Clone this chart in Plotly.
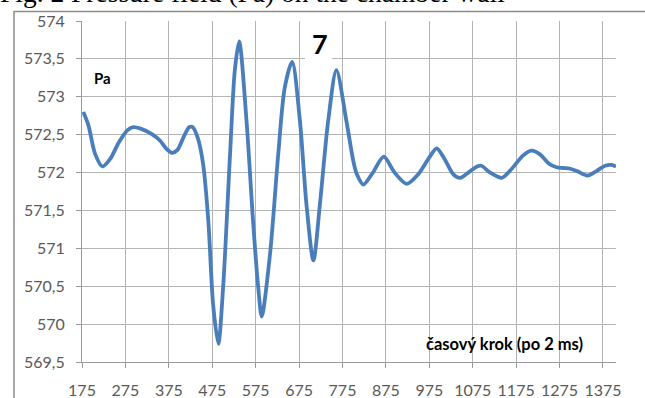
import plotly.graph_objects as go

# Data
time_step = [178, 190, 205, 222, 240, 260, 280, 293, 310, 335, 355, 370, 382, 395, 410, 422, 430,
             442, 454, 466, 477, 489, 500, 516, 527, 537, 554, 569, 581, 589, 608, 627, 642, 659,
             677, 692, 708, 723, 742, 761, 784, 800, 808, 823, 845, 870, 895, 923, 950, 975, 992,
             1010, 1030, 1046, 1065, 1085, 1095, 1115, 1142, 1165, 1190, 1210, 1230, 1250, 1268,
             1285, 1300, 1315, 1339, 1360, 1380, 1395, 1405]
pressure = [572.80, 572.62, 572.25, 572.08, 572.18, 572.40, 572.56, 572.60, 572.58, 572.51, 572.42,
            572.31, 572.26, 572.30, 572.48, 572.60, 572.60,
            572.45, 572.11, 571.36, 570.26, 569.74, 570.48, 572.24, 573.35, 573.73, 572.68, 571.36,
            570.48, 570.10, 570.92, 572.24, 573.12, 573.46,
            572.68, 571.58, 570.84, 571.58, 572.68, 573.35, 572.68, 572.15, 571.98, 571.84, 572.00,
            572.21, 572.00, 571.85, 571.98, 572.20, 572.32,
            572.18, 571.98, 571.93, 572.00, 572.08, 572.09, 572.00, 571.93, 572.05, 572.22, 572.29,
            572.24, 572.12, 572.07, 572.06, 572.05, 572.02, 571.96, 572.02, 572.09, 572.10, 572.08]

x_ticks = [175, 275, 375, 475, 575, 675, 775, 875, 975, 1075, 1175, 1275, 1375]
y_ticks = [569.5, 570, 570.5, 571, 571.5, 572, 572.5, 573, 573.5, 574]
y_labels = ["569,5", "570", "570,5", "571", "571,5", "572", "572,5", "573", "573,5", "574"]

fig = go.Figure()
fig.add_trace(go.Scatter(
    x=time_step, y=pressure, mode="lines",
    line=dict(color="#4A7EBB", width=3.8, shape="spline", smoothing=0.8),
    showlegend=False, hoverinfo="skip"))

grid = "#B4B4B4"
tick_font = dict(family="Lato, sans-serif", size=16, color="#595959")
fig.update_layout(
    width=645, height=398,
    margin=dict(l=82, r=29, t=20.5, b=36, autoexpand=False),
    paper_bgcolor="white", plot_bgcolor="white",
    font=dict(family="Lato, sans-serif", size=14, color="#404040"),
    xaxis=dict(range=[175, 1405], tickmode="array", tickvals=x_ticks,
               ticktext=[str(v) for v in x_ticks],
               showgrid=True, gridcolor=grid, gridwidth=1,
               showline=True, linecolor="#9A9A9A", linewidth=1,
               ticks="outside", ticklen=5, tickcolor="#9A9A9A",
               zeroline=False, tickfont=tick_font, automargin=False,
               ticklabelstandoff=9),
    yaxis=dict(range=[569.5, 574], tickmode="array", tickvals=y_ticks, ticktext=y_labels,
               showgrid=True, gridcolor=grid, gridwidth=1,
               showline=True, linecolor="#9A9A9A", linewidth=1,
               ticks="outside", ticklen=5, tickcolor="#9A9A9A",
               zeroline=False, tickfont=tick_font, automargin=False,
               ticklabelstandoff=8),
)

# outer border of the embedded chart
fig.add_shape(type="rect", xref="paper", yref="paper",
              x0=(14 - 82) / 534, x1=1.3, y0=-0.3, y1=1 + (20.5 - 11) / 341.5,
              line=dict(color="#8C8C8C", width=1.5), fillcolor="rgba(0,0,0,0)", layer="below")

# white box behind the "7"
fig.add_shape(type="rect", xref="paper", yref="paper",
              x0=(305 - 82) / 534, x1=(332 - 82) / 534,
              y0=1 - (62 - 20.5) / 341.5, y1=1 + (20.5 - 15) / 341.5,
              line=dict(width=0), fillcolor="white", layer="above")

fig.add_annotation(text="<b>7</b>", xref="paper", yref="paper",
                   x=(320 - 82) / 534, y=1 - (43 - 20.5) / 341.5,
                   showarrow=False, font=dict(family="Lato, sans-serif", size=27, color="black"),
                   xanchor="center", yanchor="middle")
fig.add_annotation(text="<b>Pa</b>", xref="paper", yref="paper",
                   x=(102 - 82) / 534, y=1 - (78 - 20.5) / 341.5,
                   showarrow=False, font=dict(family="Lato, sans-serif", size=15, color="black"),
                   xanchor="center", yanchor="middle")
fig.add_annotation(text="<b>časový krok (po 2 ms)</b>", xref="paper", yref="paper",
                   x=(504 - 82) / 534, y=1 - (344 - 20.5) / 341.5,
                   showarrow=False, font=dict(family="Lato, sans-serif", size=16.5, color="black"),
                   xanchor="center", yanchor="middle")
# cropped figure caption at the very top
fig.add_annotation(text="Fig. 2 Pressure field (Pa) on the chamber wall", xref="paper", yref="paper",
                   x=(-2 - 82) / 534, y=1 + (20.5 - 9) / 341.5,
                   showarrow=False, font=dict(family="Liberation Serif, serif", size=27.5, color="black"),
                   xanchor="left", yanchor="bottom")

fig.write_html("out.html", config={"displayModeBar": False},
               post_script="document.body.style.margin='0';document.body.style.overflow='hidden';")
